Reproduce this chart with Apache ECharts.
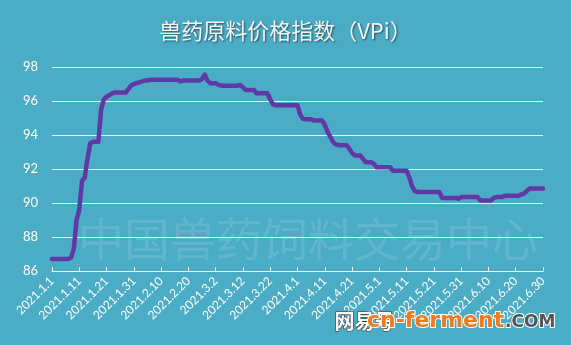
<!DOCTYPE html>
<html><head><meta charset="utf-8">
<script src="https://cdn.jsdelivr.net/npm/echarts@6/dist/echarts.min.js"></script>
<style>html,body{margin:0;padding:0;background:#4bacc6;}#c{width:571px;height:345px;}</style>
</head><body><div id="c"></div>
<script>
// Category labels: every day from 2021.1.1 to 2021.6.30
var categories = [];
(function(){
  var md = [31,28,31,30,31,30];
  for (var m = 1; m <= 6; m++) for (var d = 1; d <= md[m-1]; d++) categories.push('2021.' + m + '.' + d);
})();

// Daily index values (181 days)
var vpi = [
  86.7,86.7,86.7,86.7,86.7,86.7,86.7,86.8,87.3,89.0,          // 1.1 - 1.10
  89.6,91.3,91.5,92.6,93.5,93.6,93.6,93.6,95.5,96.1,          // 1.11 - 1.20
  96.25,96.35,96.45,96.5,96.5,96.5,96.5,96.5,96.7,96.9,       // 1.21 - 1.30
  97.0,97.05,97.1,97.15,97.2,97.2,97.25,97.25,97.25,97.25,    // 1.31 - 2.9
  97.25,97.25,97.25,97.25,97.25,97.25,97.25,97.15,97.2,97.2,  // 2.10 - 2.19
  97.2,97.2,97.2,97.2,97.2,97.3,97.55,97.2,97.05,97.05,       // 2.20 - 3.1
  97.05,96.95,96.9,96.9,96.9,96.9,96.9,96.9,96.9,96.95,       // 3.2 - 3.11
  96.8,96.65,96.65,96.65,96.65,96.45,96.45,96.45,96.45,96.45, // 3.12 - 3.21
  96.1,95.8,95.75,95.75,95.75,95.75,95.75,95.75,95.75,95.75,  // 3.22 - 3.31
  95.75,95.2,94.95,94.93,94.93,94.93,94.85,94.85,94.85,94.85, // 4.1 - 4.10
  94.6,94.2,93.9,93.6,93.45,93.4,93.4,93.4,93.4,93.2,         // 4.11 - 4.20
  92.95,92.8,92.8,92.8,92.6,92.4,92.4,92.4,92.3,92.1,         // 4.21 - 4.30
  92.1,92.1,92.1,92.1,92.1,91.9,91.9,91.9,91.9,91.9,          // 5.1 - 5.10
  91.9,91.5,91.0,90.7,90.65,90.65,90.65,90.65,90.65,90.65,    // 5.11 - 5.20
  90.65,90.65,90.65,90.3,90.3,90.3,90.3,90.3,90.3,90.25,      // 5.21 - 5.30
  90.35,90.35,90.35,90.35,90.35,90.35,90.35,90.15,90.15,90.15,// 5.31 - 6.9
  90.15,90.15,90.3,90.35,90.35,90.35,90.42,90.42,90.42,90.42, // 6.10 - 6.19
  90.42,90.42,90.5,90.55,90.7,90.85,90.85,90.85,90.85,90.85,  // 6.20 - 6.29
  90.85                                                       // 6.30
];

var yTicks = [86, 88, 90, 92, 94, 96, 98];
var titleText = '兽药原料价格指数（VPi）';
var watermark = '中国兽药饲料交易中心';

var chart = echarts.init(document.getElementById('c'));
chart.setOption({
  backgroundColor: '#4bacc6',
  animation: false,
  title: {
    text: titleText, left: 'center', top: 15,
    textStyle: { color: '#f4f4f4', fontSize: 22, fontWeight: 'normal',
      fontFamily: '"Noto Sans CJK SC", sans-serif',
      textShadowColor: 'rgba(0,0,0,0.55)', textShadowBlur: 2, textShadowOffsetX: 1, textShadowOffsetY: 1 }
  },
  grid: { left: 52, right: 28, top: 67, bottom: 74, containLabel: false },
  xAxis: {
    type: 'category', data: categories, boundaryGap: false,
    axisLine: { lineStyle: { color: '#e8f6fa', width: 1 } },
    axisTick: { inside: true, length: 4, interval: 9, lineStyle: { color: '#e8f6fa' } },
    axisLabel: { interval: 9, rotate: 45, color: '#ffffff', fontSize: 12, margin: 8,
      fontFamily: 'Lato, "Open Sans", sans-serif' },
    splitLine: { show: false }
  },
  yAxis: {
    type: 'value', min: yTicks[0], max: yTicks[yTicks.length-1], interval: 2,
    axisLine: { show: false }, axisTick: { show: false },
    axisLabel: { color: '#ffffff', fontSize: 13, margin: 14, fontFamily: 'Lato, "Open Sans", sans-serif' },
    splitLine: { lineStyle: { color: 'rgba(255,255,255,0.85)', width: 1 } }
  },
  series: [{
    type: 'line', data: vpi, showSymbol: false, smooth: false,
    lineStyle: { color: '#6238a6', width: 4.5, join: 'round', cap: 'round' },
    z: 3
  }],
  graphic: [
    { type: 'text', left: 78, top: 216, z: 1, silent: true,
      style: { text: watermark, fontSize: 46, fill: 'rgba(255,255,255,0.12)',
        fontFamily: '"Noto Sans CJK SC", sans-serif' } },
    { type: 'text', left: 334, top: 311, z: 10, silent: true,
      style: { text: '网易号', fontSize: 20, fontWeight: 'bold', fill: '#ffffff',
        stroke: '#333', lineWidth: 1, fontFamily: '"Noto Sans CJK SC", sans-serif' } },
    { type: 'text', left: 366, top: 309, z: 10, silent: true,
      style: { text: 'cn-ferment', fontSize: 22, fontWeight: 'bold', fill: '#f07a1e',
        stroke: '#ffffff', lineWidth: 2, fontFamily: '"DejaVu Sans", sans-serif' } },
    { type: 'text', left: 504, top: 313, z: 10, silent: true,
      style: { text: '.COM', fontSize: 17, fontWeight: 'bold', fill: '#555555',
        stroke: '#ffffff', lineWidth: 2, fontFamily: '"DejaVu Sans", sans-serif' } }
  ]
});
</script>
</body></html>
